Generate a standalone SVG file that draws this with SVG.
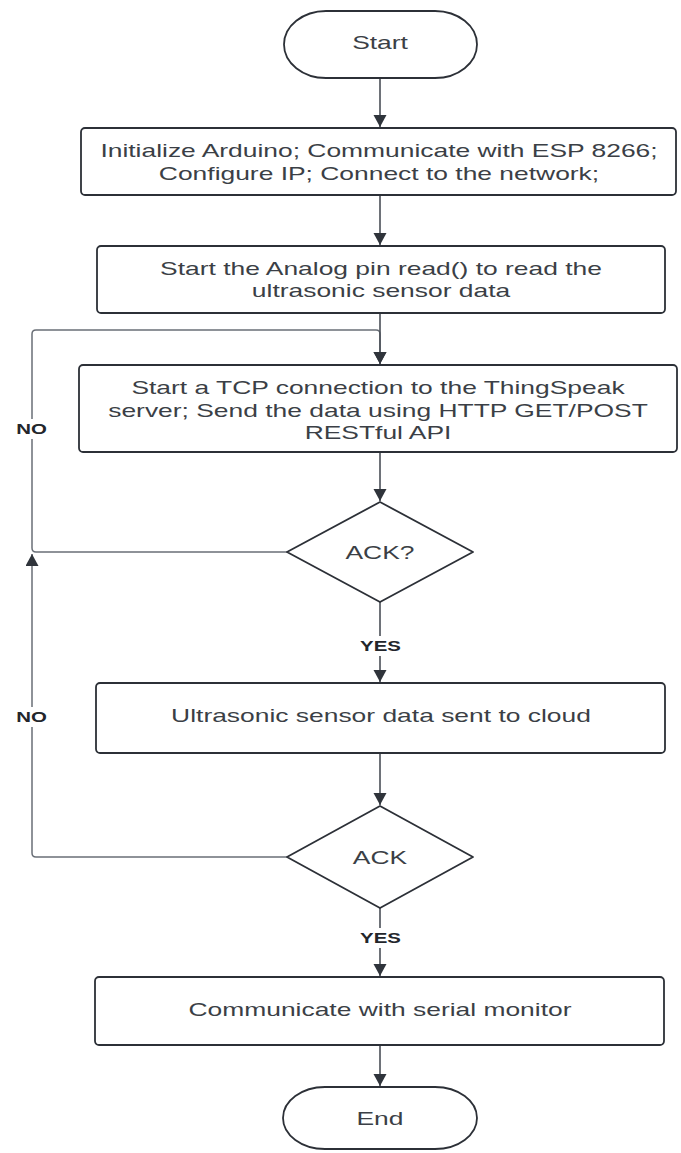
<svg xmlns="http://www.w3.org/2000/svg" width="681" height="1153" viewBox="0 0 681 1153">
<style>
.shape{fill:#ffffff;stroke:#2c3037;stroke-width:1.8;stroke-linejoin:round}
.t{font-family:"Liberation Sans",Arial,sans-serif;font-size:19px;fill:#3b3f46;text-anchor:middle}
.lbl{font-family:"Liberation Sans",Arial,sans-serif;font-size:14.7px;font-weight:bold;fill:#23262b;text-anchor:middle}
.c{fill:none;stroke:#4a4f57;stroke-width:1.6}
.loop{fill:none;stroke:#6a6f77;stroke-width:1.5}
</style>
<defs>
<marker id="ah" markerUnits="userSpaceOnUse" markerWidth="14" markerHeight="14" refX="12" refY="6.5" orient="auto">
<path d="M0,0 L12,6.5 L0,13 z" fill="#2f343b"/>
</marker>
</defs>
<rect width="681" height="1153" fill="#ffffff"/>

<g id="connectors">
<path class="c" d="M380,78 V127" marker-end="url(#ah)"/>
<path class="c" d="M380,195 V245" marker-end="url(#ah)"/>
<path class="loop" d="M287,552 H36 Q32,552 32,548 V334 Q32,330 36,330 H376 Q380,330 380,334 V364" marker-end="url(#ah)"/>
<path class="c" d="M380,313 V364" marker-end="url(#ah)"/>
<path class="c" d="M380,452 V501" marker-end="url(#ah)"/>
<path class="c" d="M380,602 V682" marker-end="url(#ah)"/>
<path class="c" d="M380,753 V805" marker-end="url(#ah)"/>
<path class="loop" d="M287,857 H36 Q32,857 32,853 V554" marker-end="url(#ah)"/>
<path class="c" d="M380,908 V976" marker-end="url(#ah)"/>
<path class="c" d="M380,1045 V1086" marker-end="url(#ah)"/>
<g id="labels">
<rect x="14" y="419" width="36" height="20" fill="#ffffff"/>
<text class="lbl" transform="translate(31.5 434) scale(1.39 1)">NO</text>
<rect x="14" y="707" width="36" height="20" fill="#ffffff"/>
<text class="lbl" transform="translate(31.5 722) scale(1.39 1)">NO</text>
<rect x="357" y="636" width="46" height="20" fill="#ffffff"/>
<text class="lbl" transform="translate(380.5 651) scale(1.39 1)">YES</text>
<rect x="357" y="928" width="46" height="20" fill="#ffffff"/>
<text class="lbl" transform="translate(380.5 943) scale(1.39 1)">YES</text>
</g>
</g>

<g id="start">
<rect class="shape" x="284" y="11" width="193" height="67" rx="42" ry="33.5"/>
<text class="t" transform="translate(380 48.5) scale(1.39 1)">Start</text>
</g>

<g id="init">
<rect class="shape" x="81" y="128" width="595" height="67" rx="4"/>
<text class="t" transform="translate(379 157) scale(1.39 1)">Initialize Arduino; Communicate with ESP 8266;</text>
<text class="t" transform="translate(379 180) scale(1.39 1)">Configure IP; Connect to the network;</text>
</g>

<g id="analog">
<rect class="shape" x="97" y="246" width="568" height="67" rx="4"/>
<text class="t" transform="translate(381 274.5) scale(1.39 1)">Start the Analog pin read() to read the</text>
<text class="t" transform="translate(381 296.5) scale(1.39 1)">ultrasonic sensor data</text>
</g>

<g id="tcp">
<rect class="shape" x="79" y="365" width="598" height="87" rx="4"/>
<text class="t" transform="translate(378 394) scale(1.39 1)">Start a TCP connection to the ThingSpeak</text>
<text class="t" transform="translate(378 416.5) scale(1.39 1)">server; Send the data using HTTP GET/POST</text>
<text class="t" transform="translate(378 438.5) scale(1.39 1)">RESTful API</text>
</g>

<g id="ack1">
<polygon class="shape" points="380,502 473,552 380,602 287,552"/>
<text class="t" transform="translate(380 558.5) scale(1.39 1)">ACK?</text>
</g>

<g id="sent">
<rect class="shape" x="96" y="683" width="569" height="70" rx="4"/>
<text class="t" transform="translate(381 722) scale(1.39 1)">Ultrasonic sensor data sent to cloud</text>
</g>

<g id="ack2">
<polygon class="shape" points="380,806 473,857 380,908 287,857"/>
<text class="t" transform="translate(380 863.5) scale(1.39 1)">ACK</text>
</g>

<g id="serial">
<rect class="shape" x="95" y="977" width="569" height="68" rx="4"/>
<text class="t" transform="translate(380 1015.5) scale(1.39 1)">Communicate with serial monitor</text>
</g>

<g id="end">
<rect class="shape" x="283" y="1087" width="194" height="62" rx="42" ry="31"/>
<text class="t" transform="translate(380 1124.5) scale(1.39 1)">End</text>
</g>
</svg>
